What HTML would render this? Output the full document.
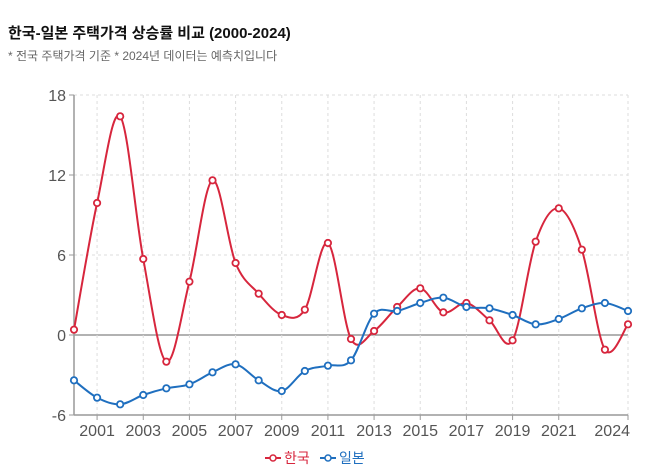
<!DOCTYPE html>
<html><head><meta charset="utf-8"><style>
body{margin:0;background:#fff;font-family:"Liberation Sans","Noto Sans CJK KR",sans-serif;}
#wrap{position:relative;width:648px;height:473px;overflow:hidden}
.t{position:absolute;left:8px;top:22px;font-size:15px;font-weight:bold;color:#111}
.s{position:absolute;left:8px;top:47px;font-size:12px;color:#666}
</style></head><body>
<div id="wrap">
<div class="t">한국-일본 주택가격 상승률 비교 (2000-2024)</div>
<div class="s">* 전국 주택가격 기준 * 2024년 데이터는 예측치입니다</div>
<svg id="svg" width="648" height="473" style="position:absolute;left:0;top:0"></svg>
</div>
<script>
const years=[2000,2001,2002,2003,2004,2005,2006,2007,2008,2009,2010,2011,2012,2013,2014,2015,2016,2017,2018,2019,2020,2021,2022,2023,2024];
const korea=[0.4,9.9,16.4,5.7,-2.0,4.0,11.6,5.4,3.1,1.5,1.9,6.9,-0.3,0.3,2.1,3.5,1.7,2.4,1.1,-0.4,7.0,9.5,6.4,-1.1,0.8];
const japan=[-3.4,-4.7,-5.2,-4.5,-4.0,-3.7,-2.8,-2.2,-3.4,-4.2,-2.7,-2.3,-1.9,1.6,1.8,2.4,2.8,2.1,2.0,1.5,0.8,1.2,2.0,2.4,1.8];
const yTicks=[-6,0,6,12,18];
const xTicks=[2001,2003,2005,2007,2009,2011,2013,2015,2017,2019,2021,2024];
const X0=74,X1=628,Y0=95,Y1=415;
const sx=v=>X0+(v-2000)/24*(X1-X0);
const sy=v=>Y1-(v+6)/24*(Y1-Y0);
const svg=document.getElementById('svg');const NS='http://www.w3.org/2000/svg';
function mk(t,a,p){const e=document.createElementNS(NS,t);for(const k in a)e.setAttribute(k,a[k]);(p||svg).appendChild(e);return e;}
yTicks.forEach(v=>{
 const l=mk('line',{x1:X0,x2:X1,y1:sy(v),y2:sy(v),stroke:v===0?'#999':'#ddd','stroke-width':v===0?1.5:1,'stroke-dasharray':v===0?'':'3,3'});
 
 mk('line',{x1:X0-5,x2:X0,y1:sy(v),y2:sy(v),stroke:'#999'});
 const t=mk('text',{x:X0-8,y:sy(v)+6,'text-anchor':'end','font-size':16,fill:'#555'});t.textContent=v;
 
});
xTicks.forEach((v,i)=>{
 const l=mk('line',{x1:sx(v),x2:sx(v),y1:Y0,y2:Y1,stroke:'#ddd','stroke-dasharray':'3,3'});
 
 mk('line',{x1:sx(v),x2:sx(v),y1:Y1,y2:Y1+5,stroke:'#999'});
 const last=i===xTicks.length-1;
 const t=mk('text',{x:last?sx(v)+2:sx(v),y:Y1+21,'text-anchor':last?'end':'middle','font-size':16,fill:'#555'});t.textContent=v;
 
});
const ax=mk('line',{x1:X0,x2:X0,y1:Y0,y2:Y1,stroke:'#999','stroke-width':1.5});

const bx=mk('line',{x1:X0,x2:X1,y1:Y1,y2:Y1,stroke:'#999','stroke-width':1.5});

function path(vals){const p=vals.map((v,i)=>[sx(years[i]),sy(v)]);let d='M'+p[0];
 for(let i=0;i<p.length-1;i++){const a=p[i-1]||p[i],b=p[i],c=p[i+1],e=p[i+2]||c;
  const c1=[b[0]+(c[0]-a[0])/6,b[1]+(c[1]-a[1])/6],c2=[c[0]-(e[0]-b[0])/6,c[1]-(e[1]-b[1])/6];
  d+=' C'+c1+' '+c2+' '+c;}return d;}
function series(vals,col,name){
 const p=mk('path',{d:path(vals),fill:'none',stroke:col,'stroke-width':2});
 
 vals.forEach((v,i)=>{const c=mk('circle',{cx:sx(years[i]),cy:sy(v),r:3.2,fill:'#fff',stroke:col,'stroke-width':1.8});
  });
}
series(korea,'#d7263d','korea');series(japan,'#1f6fbf','japan');
function leg(x,col,label,name){const g=mk('g',{});
 mk('line',{x1:x,x2:x+16,y1:458,y2:458,stroke:col,'stroke-width':2},g);
 mk('circle',{cx:x+8,cy:458,r:3,fill:'#fff',stroke:col,'stroke-width':1.5},g);
 const t=mk('text',{x:x+19,y:463,'font-size':14,fill:col},g);t.textContent=label;}
leg(265,'#d7263d','한국','legend-korea');leg(320,'#1f6fbf','일본','legend-japan');
</script>
</body></html>
